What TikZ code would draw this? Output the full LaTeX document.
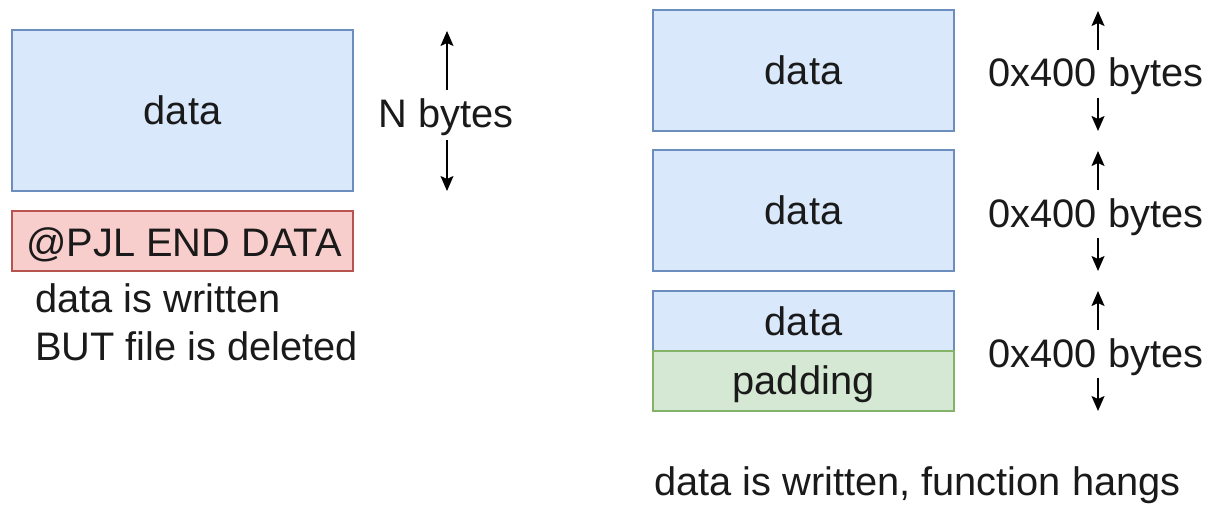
\documentclass[tikz,border=0pt]{standalone}
\usepackage{fontspec}
\setmainfont{Liberation Sans}
\usetikzlibrary{arrows.meta}
\definecolor{bluefill}{HTML}{DAE8FC}
\definecolor{bluedraw}{HTML}{6C8EBF}
\definecolor{redfill}{HTML}{F8CECC}
\definecolor{reddraw}{HTML}{B85450}
\definecolor{greenfill}{HTML}{D5E8D4}
\definecolor{greendraw}{HTML}{82B366}
\definecolor{txt}{HTML}{1A1A1A}
\tikzset{
  every node/.style={font=\fontsize{39.8}{47}\selectfont, text=txt, inner sep=0pt, outer sep=0pt},
  blockbox/.style={draw=bluedraw, fill=bluefill, line width=1.5pt, rectangle},
  redbox/.style={draw=reddraw, fill=redfill, line width=1.5pt, rectangle},
  greenbox/.style={draw=greendraw, fill=greenfill, line width=1.5pt, rectangle},
  sizearrow/.style={draw=black, line width=1.7pt, -{Stealth[length=15pt,width=13pt,inset=3pt]}},
}
\begin{document}
\begin{tikzpicture}[x=1pt,y=-1pt]
\useasboundingbox (0,0) rectangle (1212,505);
% left side
\path[blockbox] (12,30) rectangle (353,191);
\node (ldata) at (182.5,110.5) {data};
\path[redbox] (12,211) rectangle (353,271);
\node[anchor=base] (pjl) at (184,256) {@PJL END DATA};
\node[anchor=base west] (lnote1) at (35,312) {data is written};
\node[anchor=base west] (lnote2) at (35,360) {BUT file is deleted};
\node[anchor=base] (nbytes) at (446,128) {N bytes};
\coordinate (nupT) at (447,90);
\coordinate (nupH) at (447,31);
\coordinate (ndnT) at (447,140);
\coordinate (ndnH) at (447,191);
\draw[sizearrow] (nupT) -- (nupH);
\draw[sizearrow] (ndnT) -- (ndnH);
% right side
\path[blockbox] (653,10) rectangle (954,131);
\node (rdata1) at (803.5,70.5) {data};
\path[blockbox] (653,150) rectangle (954,271);
\node (rdata2) at (803.5,210.5) {data};
\path[blockbox] (653,291) rectangle (954,351);
\node (rdata3) at (803.5,321) {data};
\path[greenbox] (653,351) rectangle (954,411);
\node[anchor=base] (pad) at (803.5,394) {padding};
\foreach \i/\y in {1/0,2/140,3/280}{
  \node[anchor=base] (sz\i) at (1096,87+\y) {0x400 bytes};
  \coordinate (up\i T) at (1098,50+\y);
  \coordinate (up\i H) at (1098,11+\y);
  \coordinate (dn\i T) at (1098,98+\y);
  \coordinate (dn\i H) at (1098,131+\y);
  \draw[sizearrow] (up\i T) -- (up\i H);
  \draw[sizearrow] (dn\i T) -- (dn\i H);
}
\node[anchor=base west] (rnote) at (654,495) {data is written, function hangs};
\end{tikzpicture}
\end{document}
